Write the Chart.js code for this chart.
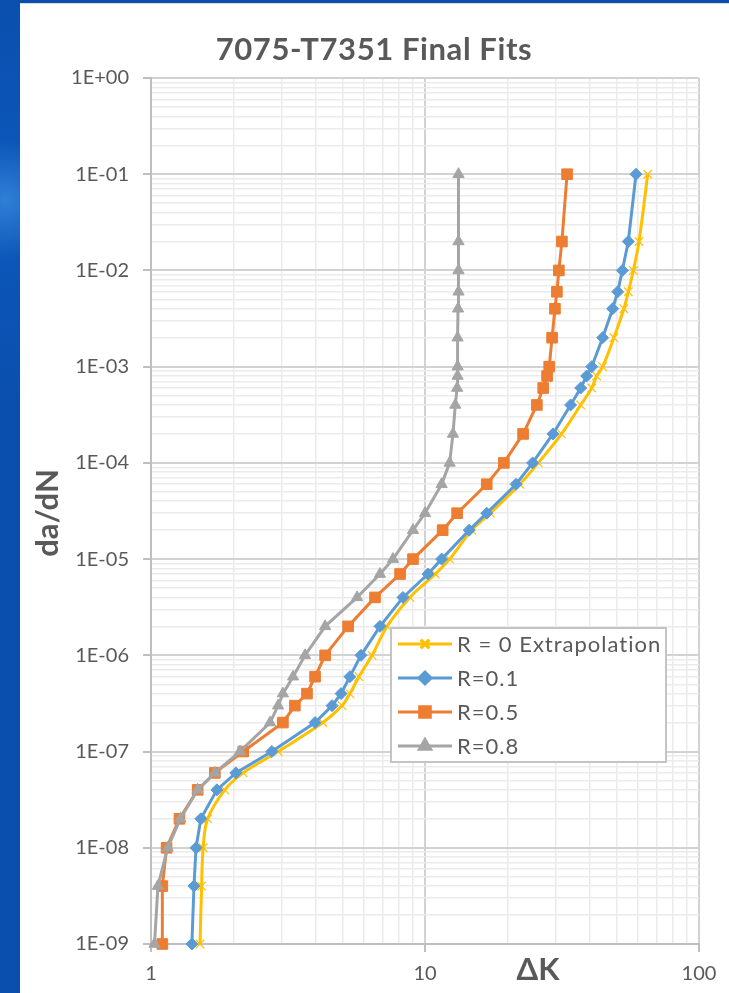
<!DOCTYPE html>
<html lang="en">
<head>
<meta charset="UTF-8">
<title>7075-T7351 Final Fits</title>
<script src="https://cdn.jsdelivr.net/npm/chart.js"></script>
<style>
  html, body { margin: 0; padding: 0; }
  body {
    width: 729px; height: 993px; overflow: hidden;
    background: radial-gradient(circle at 5px 200px, #2f7fd6 0, #0b56b8 60px, #0a4fae 200px),
                linear-gradient(180deg, #0c58ba, #0a4ca8);
  }
  #card {
    position: absolute; left: 20px; top: 3px; width: 709px; height: 990px;
    background: #fff; border-top: 1px solid #d9d9d9;
  }
</style>
</head>
<body>
<div id="card"><canvas id="fits" width="709" height="990"></canvas></div>
<script>
// crack growth rate da/dN, shared by all four curves
const dadn = [1e-9, 4e-9, 1e-8, 2e-8, 4e-8, 6e-8, 1e-7, 2e-7, 3e-7, 4e-7, 6e-7, 1e-6, 2e-6, 4e-6, 7e-6,
              1e-5, 2e-5, 3e-5, 6e-5, 1e-4, 2e-4, 4e-4, 6e-4, 8e-4, 1e-3, 2e-3, 4e-3, 6e-3, 1e-2, 2e-2, 1e-1];

// delta K for each stress ratio
const dkR0 = [1.51, 1.53, 1.55, 1.61, 1.86, 2.17, 2.91, 4.24, 4.98, 5.32, 5.74, 6.41, 7.27, 8.81, 10.9,
              12.3, 14.8, 17.3, 22.2, 25.9, 31.5, 37.0, 40.6, 42.3, 44.5, 48.9, 53.2, 55.2, 57.6, 60.4, 65.0];
const dkR01 = [1.41, 1.435, 1.46, 1.52, 1.74, 2.04, 2.76, 3.97, 4.58, 4.94, 5.32, 5.84, 6.85, 8.31, 10.25,
               11.5, 14.5, 16.8, 21.5, 24.7, 29.3, 34.0, 37.0, 38.9, 40.6, 44.5, 48.4, 50.5, 52.5, 55.2, 58.9];
const dkR05 = [1.10, 1.10, 1.14, 1.27, 1.48, 1.71, 2.17, 3.03, 3.35, 3.71, 3.97, 4.32, 5.24, 6.57, 8.11,
               9.04, 11.6, 13.1, 16.8, 19.4, 22.8, 25.6, 27.0, 27.9, 28.4, 29.1, 29.8, 30.3, 30.8, 31.6, 33.0];
const dkR08 = [1.03, 1.06, 1.15, 1.28, 1.48, 1.71, 2.11, 2.72, 2.91, 3.03, 3.30, 3.65, 4.32, 5.65, 6.85,
               7.64, 9.04, 10.0, 11.5, 12.3, 12.65, 12.9, 13.1, 13.15, 13.15, 13.15, 13.2, 13.25, 13.25, 13.25, 13.25];

const seriesNames = ['R = 0 Extrapolation', 'R=0.1', 'R=0.5', 'R=0.8'];

const TXT = '#595959';

function pts(xs) {
    return xs.map((x, i) => ({ x: x, y: dadn[i] }));
}

function isMajor(v) {
    const l = Math.log10(v);
    return Math.abs(l - Math.round(l)) < 1e-9;
}

function logTicks(minExp, maxExp) {
    const t = [];
    for (let e = minExp; e < maxExp; e++) {
        for (let m = 1; m < 10; m++) t.push({ value: m * Math.pow(10, e) });
    }
    t.push({ value: Math.pow(10, maxExp) });
    return t;
}

function gridOpts() {
    return {
        color: c => (c.tick && isMajor(c.tick.value)) ? '#d2d2d2' : '#ebebeb',
        lineWidth: c => (c.tick && isMajor(c.tick.value)) ? 2 : 1.5,
        tickColor: c => (c.tick && isMajor(c.tick.value)) ? '#bfbfbf' : 'rgba(0,0,0,0)',
        tickLength: 8,
        tickWidth: 2
    };
}

const datasets = [
    { label: seriesNames[0], data: pts(dkR0), borderColor: '#FFC000', backgroundColor: '#FFC000',
      pointStyle: 'crossRot', pointRadius: 6, pointBorderWidth: 1.2, tension: 0.35, order: 4 },
    { label: seriesNames[1], data: pts(dkR01), borderColor: '#5B9BD5', backgroundColor: '#5B9BD5',
      pointStyle: 'rectRot', pointRadius: 6, pointBorderWidth: 1, tension: 0, order: 3 },
    { label: seriesNames[2], data: pts(dkR05), borderColor: '#ED7D31', backgroundColor: '#ED7D31',
      pointStyle: 'rect', pointRadius: 7.5, pointBorderWidth: 1, tension: 0, order: 2 },
    { label: seriesNames[3], data: pts(dkR08), borderColor: '#A5A5A5', backgroundColor: '#A5A5A5',
      pointStyle: 'triangle', pointRadius: 6.5, pointBorderWidth: 1, tension: 0, order: 1 }
];
datasets.forEach(d => { d.borderWidth = 3; d.clip = false; d.fill = false; });

// title, axis titles and the boxed legend inside the plot
const decor = {
    id: 'decor',
    afterDraw(chart) {
        const ctx = chart.ctx;
        const ca = chart.chartArea;
        ctx.save();
        ctx.fillStyle = TXT;
        ctx.textAlign = 'center';
        ctx.textBaseline = 'middle';
        ctx.letterSpacing = '0.6px';
        ctx.font = 'bold 31px Lato';
        ctx.fillText('7075-T7351 Final Fits', 354, 46);
        ctx.letterSpacing = '0px';

        ctx.font = 'bold 31px Lato';
        ctx.fillText('\u0394K', 518, 966);

        ctx.save();
        ctx.translate(28, 509);
        ctx.rotate(-Math.PI / 2);
        ctx.fillText('da/dN', 0, 0);
        ctx.restore();

        // legend
        const lx = ca.left + 240, ly = ca.top + 550, lw = 275, lh = 134;
        ctx.fillStyle = '#fff';
        ctx.fillRect(lx, ly, lw, lh);
        ctx.strokeStyle = '#c4c4c4';
        ctx.lineWidth = 2;
        ctx.strokeRect(lx, ly, lw, lh);
        ctx.textAlign = 'left';
        ctx.font = '22px Lato';
        ctx.letterSpacing = '1px';
        datasets.forEach((d, i) => {
            const y = ly + 16 + i * 34;
            ctx.strokeStyle = d.borderColor;
            ctx.lineWidth = 3;
            ctx.beginPath();
            ctx.moveTo(lx + 7, y);
            ctx.lineTo(lx + 61, y);
            ctx.stroke();
            ctx.fillStyle = d.backgroundColor;
            Chart.helpers.drawPoint(ctx, {
                pointStyle: d.pointStyle, radius: d.pointRadius, rotation: 0,
                borderWidth: d.pointBorderWidth
            }, lx + 34, y);
            if (d.pointStyle === 'crossRot') ctx.stroke(); else { ctx.fill(); }
            ctx.fillStyle = TXT;
            ctx.fillText(d.label, lx + 66, y + 1);
        });
        ctx.restore();
    }
};

new Chart(document.getElementById('fits'), {
    type: 'line',
    data: { datasets: datasets },
    options: {
        responsive: false,
        animation: false,
        layout: { padding: { left: 0, top: 74, right: 30, bottom: 0 } },
        plugins: {
            legend: { display: false },
            title: { display: false },
            tooltip: { enabled: false }
        },
        scales: {
            x: {
                type: 'logarithmic',
                min: 1,
                max: 100,
                afterBuildTicks: s => { s.ticks = logTicks(0, 2); },
                afterFit: s => { s.height = 50; },
                grid: gridOpts(),
                border: { color: '#bfbfbf', width: 2 },
                ticks: {
                    autoSkip: false, maxRotation: 0, padding: 10, color: TXT,
                    font: { family: 'Lato', size: 20 },
                    callback: v => isMajor(v) ? String(Math.round(v)) : ''
                }
            },
            y: {
                type: 'logarithmic',
                min: 1e-9,
                max: 1,
                afterBuildTicks: s => { s.ticks = logTicks(-9, 0); },
                afterFit: s => { s.width = 131; },
                grid: gridOpts(),
                border: { color: '#bfbfbf', width: 2 },
                ticks: {
                    autoSkip: false, padding: 14, color: TXT,
                    font: { family: 'Lato', size: 20 },
                    callback: v => {
                        if (!isMajor(v)) return '';
                        const e = Math.round(Math.log10(v));
                        return '1E' + (e < 0 ? '-' : '+') + String(Math.abs(e)).padStart(2, '0');
                    }
                }
            }
        }
    },
    plugins: [decor]
});
</script>
</body>
</html>
